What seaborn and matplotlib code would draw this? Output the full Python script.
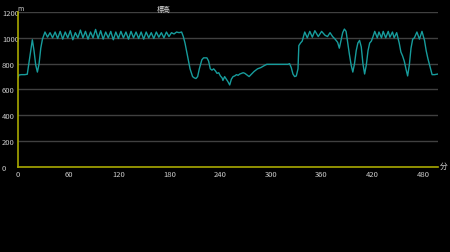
import matplotlib
matplotlib.use("Agg")
import matplotlib.pyplot as plt
import seaborn as sns
import pandas as pd
from matplotlib.transforms import ScaledTranslation

minutes = [0, 1, 4, 8, 11, 14, 17, 19, 21, 23, 25, 27, 29,
           32, 35, 38, 41, 44, 47, 50, 53, 56, 59, 62, 65, 68, 71, 74, 77, 80,
           83, 86, 89, 92, 95, 98, 101, 104, 107, 110, 113, 116, 119, 122, 125,
           128, 131, 134, 137, 140, 143, 146, 149, 152, 155, 158, 161, 164, 167,
           170, 173, 176, 179, 182, 185, 188, 191, 194, 196, 198, 201, 204, 207,
           209, 211, 213, 215, 218, 220, 224, 226, 228, 230, 232, 234, 236, 238,
           240, 242, 243, 245, 247, 249, 251, 253, 255, 257, 259, 261, 263, 265,
           267, 269, 271, 274, 277, 280, 284, 288, 292, 295, 300, 310, 320, 322,
           324, 326, 328, 330, 332, 333, 335, 337, 340, 343, 346, 349, 352, 356,
           360, 364, 367, 370, 373, 376, 379, 381, 383, 385, 387, 389, 391, 393,
           395, 397, 399, 401, 403, 405, 407, 409, 411, 413, 415, 417, 419, 421,
           423, 426, 428, 431, 433, 436, 439, 441, 444, 446, 449, 452, 454, 456,
           458, 460, 462, 464, 466, 468, 470, 473, 476, 479, 482, 484, 486, 488,
           490, 491, 494, 498]
elevation = [690, 712, 715, 715, 718, 850, 985, 900, 790, 735, 800, 920, 990,
             1045, 1005, 1040, 1000, 1045, 995, 1050, 990, 1045, 1000, 1055, 985, 1040, 1000, 1060, 1000, 1050,
             990, 1045, 1000, 1065, 995, 1055, 990, 1045, 1000, 1050, 985, 1045, 995, 1050, 1000,
             1045, 990, 1050, 1000, 1045, 995, 1045, 990, 1045, 1000, 1040, 995, 1045, 1005,
             1040, 1000, 1045, 1010, 1040, 1030, 1045, 1040, 1045, 1010, 960, 860, 760, 700,
             690, 685, 700, 760, 830, 845, 845, 820, 760, 750, 760, 745, 725, 730,
             705, 690, 670, 700, 680, 660, 635, 680, 700, 705, 715, 710, 720, 725,
             730, 725, 715, 700, 720, 740, 760, 770, 785, 795, 795, 795, 795, 800,
             770, 720, 700, 705, 760, 940, 960, 975, 1045, 1000, 1050, 1005, 1055, 1010,
             1050, 1020, 1010, 1040, 1010, 990, 965, 920, 980, 1040, 1068, 1050, 960, 870,
             790, 735, 800, 900, 960, 980, 930, 800, 720, 790, 900, 960, 975, 1010,
             1050, 1000, 1045, 1000, 1050, 1000, 1050, 1005, 1045, 1000, 1040, 960, 890, 860,
             820, 760, 705, 790, 920, 990, 1000, 1045, 990, 1050, 980, 900, 840, 790,
             740, 715, 715, 720]

x_ticks = [0, 60, 120, 180, 240, 300, 360, 420, 480]
y_ticks = [0, 200, 400, 600, 800, 1000, 1200]

df = pd.DataFrame({"minutes": minutes, "elevation": elevation})

sns.set_style("dark", {"axes.facecolor": "black", "figure.facecolor": "black",
                       "grid.color": "#404040", "axes.grid": True})
plt.rcParams["font.family"] = ["Noto Sans CJK JP", "DejaVu Sans"]

fig = plt.figure(figsize=(4.5, 2.53), dpi=100, facecolor="black")
ax = fig.add_axes([18 / 450, 85 / 253, 420 / 450, 155 / 253])
ax.set_facecolor("black")

sns.lineplot(data=df, x="minutes", y="elevation", ax=ax, color="#179c9c",
             linewidth=1.0, estimator=None)

ax.set_xlim(0, 498)
ax.set_ylim(0, 1200)
ax.set_xticks(x_ticks)
ax.set_yticks(y_ticks)
ax.set_xticklabels([str(v) for v in x_ticks])
ax.set_yticklabels([str(v) for v in y_ticks])
ax.set_xlabel("")
ax.set_ylabel("")

ax.grid(axis="y", color="#404040", linewidth=1.0)
ax.grid(axis="x", visible=False)

for side in ["top", "right"]:
    ax.spines[side].set_visible(False)
for side in ["left", "bottom"]:
    ax.spines[side].set_visible(True)
    ax.spines[side].set_color("#a8a800")
    ax.spines[side].set_linewidth(1.2)

ax.tick_params(axis="x", direction="in", length=2, width=0.6, color="#808080",
               labelsize=5.5, labelcolor="#cccccc", pad=2)
ax.tick_params(axis="y", length=0, labelsize=5.5, labelcolor="#cccccc", pad=0)
offset = ScaledTranslation(-16 / 100, 0, fig.dpi_scale_trans)
for lab in ax.get_yticklabels():
    lab.set_horizontalalignment("left")
    lab.set_transform(lab.get_transform() + offset)

fig.text(164 / 450, 1 - 10 / 253, "標高", color="#dddddd", fontsize=5,
         ha="center", va="center")
fig.text(20.5 / 450, 1 - 9 / 253, "m", color="#cccccc", fontsize=5,
         ha="center", va="center")
fig.text(444 / 450, 1 - 167 / 253, "分", color="#cccccc", fontsize=5.5,
         ha="center", va="center")

fig.savefig("out.png", dpi=100, facecolor="black")
